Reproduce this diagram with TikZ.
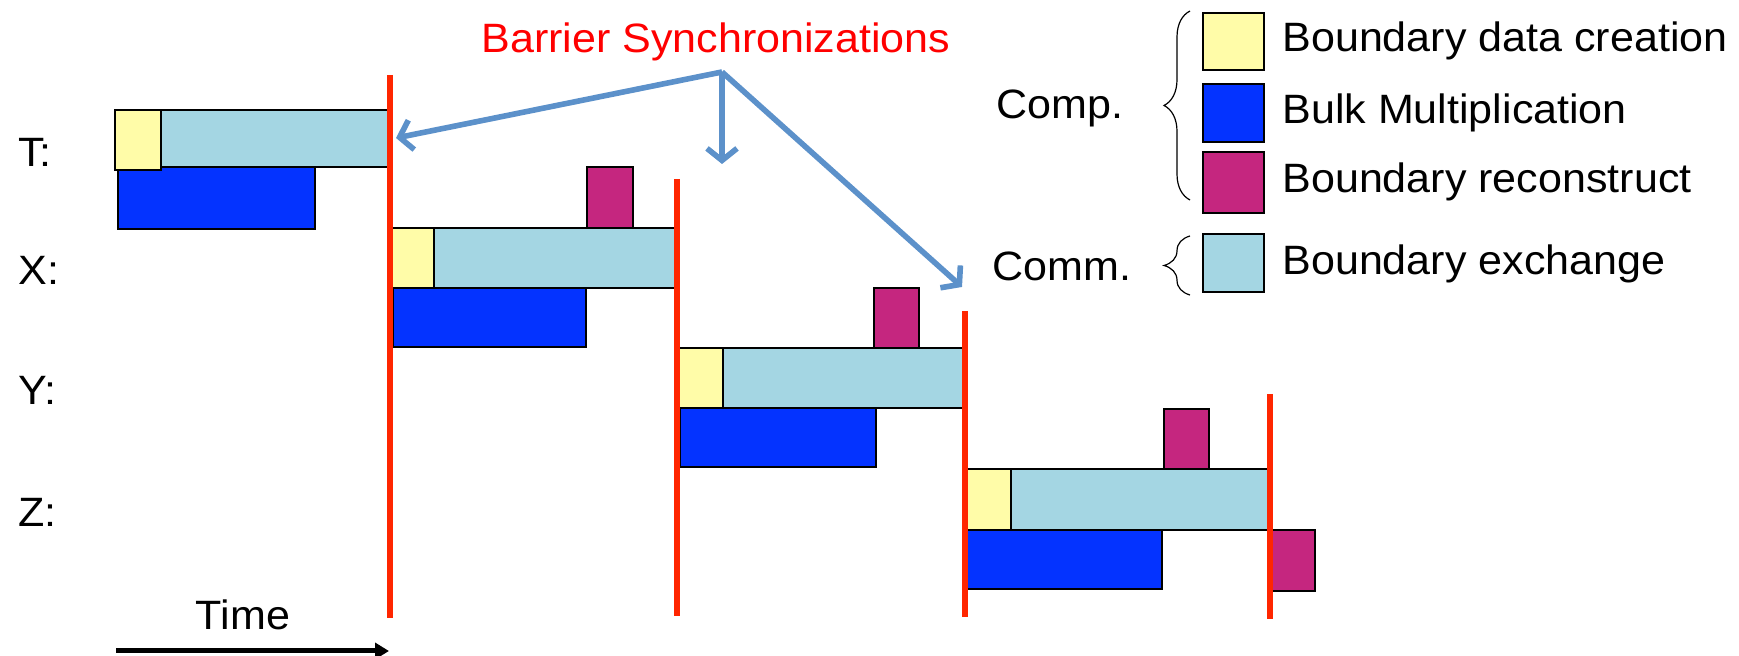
\documentclass[tikz,border=0pt]{standalone}
\usepackage{fontspec}
\setmainfont{Liberation Sans}[FakeStretch=1.05]
\usetikzlibrary{arrows.meta,decorations.pathreplacing}
\definecolor{crtyellow}{RGB}{255,252,168}
\definecolor{xchblue}{RGB}{164,214,227}
\definecolor{bulkblue}{RGB}{4,51,255}
\definecolor{recmagenta}{RGB}{197,38,127}
\definecolor{barrred}{RGB}{255,38,0}
\definecolor{syncblue}{RGB}{92,145,202}
\begin{document}
\begin{tikzpicture}[x=0.5pt, y=-0.5pt,
  every node/.style={font=\fontsize{20.5}{24}\selectfont, inner sep=0pt},
  blk/.style={draw=black, line width=0.8pt},
  create/.style={blk, fill=crtyellow},
  xchg/.style={blk, fill=xchblue},
  bulk/.style={blk, fill=bulkblue},
  recon/.style={blk, fill=recmagenta},
  barrier/.style={draw=barrred, line width=2.6pt},
  pointer/.style={draw=syncblue, line width=2.8pt, -{Straight Barb[length=6pt,width=15pt]}},
  grp/.style={draw=black, line width=0.6pt, decorate, decoration={brace, amplitude=13pt}}]
  \useasboundingbox (0,0) rectangle (1739,656);

  \node[anchor=west] (lblT) at (18,152) {T:};
  \node[anchor=west] (lblX) at (18,270) {X:};
  \node[anchor=west] (lblY) at (18,390) {Y:};
  \node[anchor=west] (lblZ) at (18,512) {Z:};

  \draw[xchg] (161,110) rectangle (389,167);
  \draw[bulk] (118,167) rectangle (315,229);
  \draw[create] (115,110) rectangle (161,170);

  \draw[recon] (587,167) rectangle (633,228);
  \draw[xchg] (434,228) rectangle (676,288);
  \draw[bulk] (393,288) rectangle (586,347);
  \draw[create] (392,228) rectangle (434,288);

  \draw[recon] (874,288) rectangle (919,348);
  \draw[xchg] (723,348) rectangle (964,408);
  \draw[bulk] (680,408) rectangle (876,467);
  \draw[create] (679,348) rectangle (723,408);

  \draw[recon] (1164,409) rectangle (1209,469);
  \draw[xchg] (1011,469) rectangle (1268,530);
  \draw[bulk] (967,530) rectangle (1162,589);
  \draw[create] (967,469) rectangle (1011,530);
  \draw[recon] (1272,530) rectangle (1315,591);

  \coordinate (bar1top) at (390,75);
  \coordinate (bar1bot) at (390,618);
  \coordinate (bar2top) at (677,179);
  \coordinate (bar2bot) at (677,616);
  \coordinate (bar3top) at (965,311);
  \coordinate (bar3bot) at (965,617);
  \coordinate (bar4top) at (1270,394);
  \coordinate (bar4bot) at (1270,619);
  \draw[barrier] (bar1top) -- (bar1bot);
  \draw[barrier] (bar2top) -- (bar2bot);
  \draw[barrier] (bar3top) -- (bar3bot);
  \draw[barrier] (bar4top) -- (bar4bot);

  \node[text=red] (title) at (716,42) {Barrier Synchronizations};
  \coordinate (sync) at (722,72);
  \coordinate (tip1) at (396,138);
  \coordinate (tip2) at (722,164);
  \coordinate (tip3) at (962,287);
  \draw[pointer] (sync) -- (tip1);
  \draw[pointer] (sync) -- (tip2);
  \draw[pointer] (sync) -- (tip3);

  \draw[create] (1203,13) rectangle (1264,70);
  \draw[bulk] (1203,84) rectangle (1264,142);
  \draw[recon] (1203,152) rectangle (1264,213);
  \draw[xchg] (1203,234) rectangle (1264,292);
  \node[anchor=west] (legcreate) at (1282,41) {Boundary data creation};
  \node[anchor=west] (legbulk) at (1282,113) {Bulk Multiplication};
  \node[anchor=west] (legrecon) at (1282,182) {Boundary reconstruct};
  \node[anchor=west] (legxchg) at (1282,264) {Boundary exchange};
  \node[anchor=east] (comp) at (1124,108) {Comp.};
  \node[anchor=east] (comm) at (1132,266) {Comm.};
  \draw[grp] (1190,200) -- (1190,11);
  \draw[grp] (1190,295) -- (1190,236);

  \node (time) at (243,615) {Time};
  \coordinate (tstart) at (116,651);
  \coordinate (tend) at (389,651);
  \draw[line width=2.5pt, -{Triangle[length=7pt,width=8pt]}] (tstart) -- (tend);
\end{tikzpicture}
\end{document}
